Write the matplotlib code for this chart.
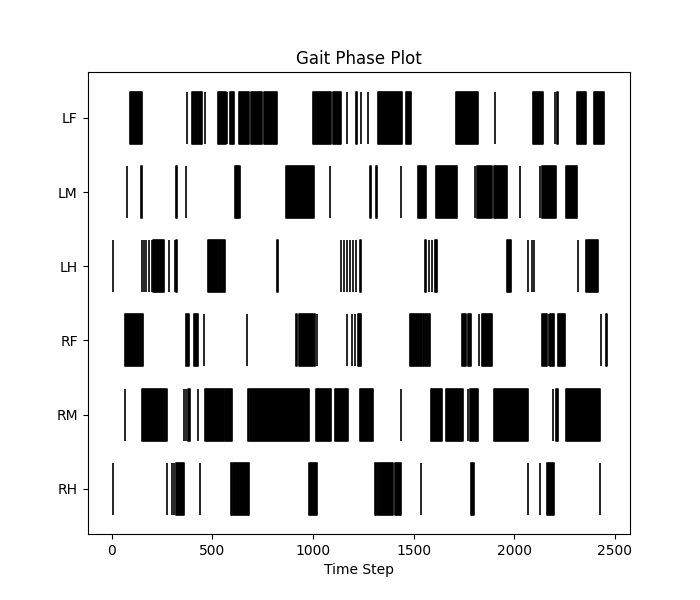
import matplotlib
matplotlib.use('Agg')
import matplotlib.pyplot as plt

legs = ['LF', 'LM', 'LH', 'RF', 'RM', 'RH']

# contact phases per leg as (start, end) time steps
LF = [(90, 150), (373, 373), (398, 423), (428, 448), (463, 463), (528, 568), (573, 573),
      (588, 608), (632, 682), (692, 747), (757, 822), (999, 1089), (1100, 1140), (1170, 1170),
      (1215, 1218), (1237, 1240), (1275, 1275), (1325, 1440), (1464, 1489), (1713, 1818),
      (1902, 1902), (2092, 2141), (2201, 2204), (2213, 2216), (2311, 2355), (2395, 2445)]
LM = [(74, 74), (147, 151), (322, 326), (368, 368), (613, 637), (867, 1006), (1086, 1086),
      (1285, 1290), (1315, 1320), (1439, 1439), (1524, 1564), (1609, 1718), (1803, 1806),
      (1815, 1890), (1900, 1962), (2027, 2027), (2126, 2128), (2136, 2206), (2256, 2311)]
LH = [(5, 5), (149, 150), (160, 161), (172, 173), (185, 186), (199, 199), (204, 259),
      (284, 284), (314, 315), (322, 324), (478, 545), (550, 563), (820, 824), (1140, 1141),
      (1155, 1156), (1170, 1171), (1185, 1186), (1200, 1201), (1215, 1216), (1235, 1240),
      (1559, 1561), (1575, 1576), (1590, 1591), (1605, 1614), (1962, 1982), (2067, 2068),
      (2087, 2088), (2097, 2097), (2316, 2316), (2356, 2359), (2366, 2415)]
RF = [(65, 154), (368, 383), (408, 428), (458, 458), (672, 672), (916, 920), (932, 935),
      (943, 1000), (1005, 1010), (1019, 1021), (1170, 1171), (1195, 1196), (1210, 1211),
      (1225, 1240), (1484, 1540), (1548, 1550), (1558, 1560), (1568, 1570), (1577, 1579),
      (1738, 1760), (1770, 1783), (1823, 1825), (1840, 1887), (2136, 2165), (2172, 2175),
      (2180, 2196), (2216, 2251), (2430, 2432), (2456, 2460)]
RM = [(65, 65), (149, 274), (359, 361), (368, 370), (380, 388), (428, 428), (463, 560),
      (565, 598), (677, 680), (687, 981), (1016, 1091), (1111, 1175), (1235, 1300), (1439, 1439),
      (1584, 1643), (1663, 1743), (1768, 1770), (1780, 1818), (1897, 2067), (2191, 2194),
      (2205, 2216), (2256, 2425)]
RH = [(5, 5), (274, 274), (299, 299), (310, 312), (322, 359), (438, 438), (593, 600),
      (605, 682), (981, 1021), (1310, 1311), (1320, 1321), (1330, 1400), (1410, 1439),
      (1539, 1539), (1783, 1798), (2067, 2067), (2126, 2128), (2161, 2196), (2425, 2425)]

phases = [LF, LM, LH, RF, RM, RH]

fig, ax = plt.subplots(figsize=(7, 6), dpi=100)

line_len = 0.7
for i, spans in enumerate(phases):
    offset = len(legs) - 1 - i
    bars = [(s, e - s) for s, e in spans]
    ax.broken_barh(bars, (offset - line_len / 2, line_len),
                   facecolors='black', edgecolors='black', linewidth=1.2)

ax.set_yticks(range(len(legs)))
ax.set_yticklabels(legs[::-1])
ax.set_ylim(-0.61, 5.62)
ax.set_xlim(-120, 2575)
ax.set_xlabel('Time Step')
ax.set_title('Gait Phase Plot')

plt.savefig('out.png')
